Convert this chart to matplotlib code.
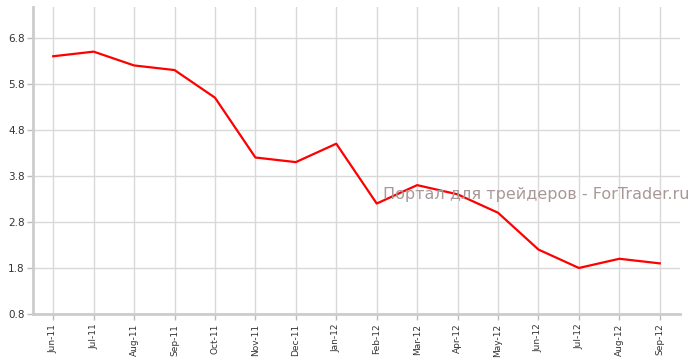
import matplotlib.pyplot as plt
import numpy as np

# data
months = ["Jun-11", "Jul-11", "Aug-11", "Sep-11", "Oct-11", "Nov-11", "Dec-11", "Jan-12",
          "Feb-12", "Mar-12", "Apr-12", "May-12", "Jun-12", "Jul-12", "Aug-12", "Sep-12"]
values = [6.4, 6.5, 6.2, 6.1, 5.5, 4.2, 4.1, 4.5, 3.2, 3.6, 3.4, 3.0, 2.2, 1.8, 2.0, 1.9]
yticks = [0.8, 1.8, 2.8, 3.8, 4.8, 5.8, 6.8]

fig = plt.figure(figsize=(6.96, 3.64), dpi=100)
ax = fig.add_axes([33 / 696, 50 / 364, 647 / 696, 307 / 364])

x = np.arange(len(months))
ax.plot(x, values, color="#ff0000", linewidth=1.6, zorder=3)

ax.set_xlim(-0.5, len(months) - 0.5)
ax.set_ylim(0.8, 7.47)
ax.set_xticks(x)
ax.set_xticklabels(months, rotation=90, fontsize=6.5, color="#333333")
ax.set_yticks(yticks)
ax.set_yticklabels(["%.1f" % v for v in yticks], fontsize=7.5, color="#333333")

# grid and axes
ax.grid(True, color="#d9d9d9", linewidth=1)
ax.set_axisbelow(True)
for side in ["top", "right"]:
    ax.spines[side].set_visible(False)
for side in ["left", "bottom"]:
    ax.spines[side].set_color("#cccccc")
    ax.spines[side].set_linewidth(2)
ax.tick_params(axis="both", color="#bbbbbb", length=4, width=1)
ax.tick_params(axis="x", pad=3)
ax.tick_params(axis="y", pad=2)

# watermark
ax.text(1.015, 0.39, "Портал для трейдеров - ForTrader.ru", transform=ax.transAxes,
        ha="right", va="center", fontsize=11.5, color="#a89898", zorder=4, clip_on=False)

fig.savefig("out.png", dpi=100)
